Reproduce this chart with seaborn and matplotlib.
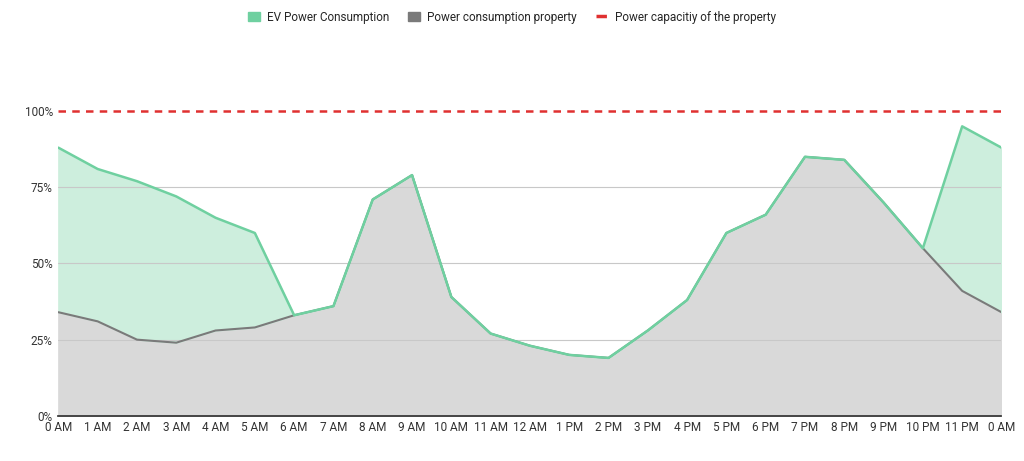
import matplotlib
matplotlib.use("Agg")
import matplotlib.pyplot as plt
import seaborn as sns
import numpy as np

labels = ["0 AM","1 AM","2 AM","3 AM","4 AM","5 AM","6 AM","7 AM","8 AM","9 AM","10 AM","11 AM","12 AM",
          "1 PM","2 PM","3 PM","4 PM","5 PM","6 PM","7 PM","8 PM","9 PM","10 PM","11 PM","0 AM"]
ev = [88,81,77,72,65,60,33,36,71,79,39,27,23,20,19,28,38,60,66,85,84,70,55,95,88]
prop = [34,31,25,24,28,29,33,36,71,79,39,27,23,20,19,28,38,60,66,85,84,70,55,41,34]
capacity = 100

sns.set_theme(style="white")
plt.rcParams['font.family'] = ['Roboto', 'DejaVu Sans']
fig = plt.figure(figsize=(10.24, 4.61), dpi=100)
ax = fig.add_axes([0.057, 0.098, 0.921, 0.661])
x = np.arange(len(labels))
green = "#6fd0a0"
ax.fill_between(x, 0, prop, color="#d9d9d9", zorder=1)
ax.fill_between(x, prop, ev, color="#cdeedd", zorder=1)
sns.lineplot(x=x, y=prop, ax=ax, color="#7a7a7a", lw=1.5, zorder=3)
sns.lineplot(x=x, y=ev, ax=ax, color=green, lw=1.8, zorder=4)
ax.axhline(capacity, color="#e03030", ls=(0, (3, 2.5)), lw=1.8, zorder=5, clip_on=False)
ax.set_xlim(0, 24)
ax.set_ylim(0, 100)
ax.set_yticks([0, 25, 50, 75, 100])
ax.set_yticklabels(["0%", "25%", "50%", "75%", "100%"])
ax.set_xticks(x)
ax.set_xticklabels(labels)
ax.tick_params(labelsize=8.5, colors="#333333", length=0, pad=4)
for y in [25, 50, 75]:
    ax.axhline(y, color="#c8c8c8", lw=0.8, zorder=2)
for s in ["top", "right", "left"]:
    ax.spines[s].set_visible(False)
ax.spines["bottom"].set_color("#333333")
from matplotlib.patches import Patch
from matplotlib.lines import Line2D
handles = [Patch(color=green), Patch(color="#7a7a7a"),
           Line2D([], [], color="#e03030", ls=(0, (3, 1.5)), lw=2.5)]
fig.legend(handles, ["EV Power Consumption", "Power consumption property", "Power capacitiy of the property"],
           loc="upper center", bbox_to_anchor=(0.5, 1.0), ncol=3, frameon=False, fontsize=8.5,
           handlelength=1.0, handleheight=0.9, columnspacing=1.6, handletextpad=0.6)
fig.savefig("out.png", dpi=100)
